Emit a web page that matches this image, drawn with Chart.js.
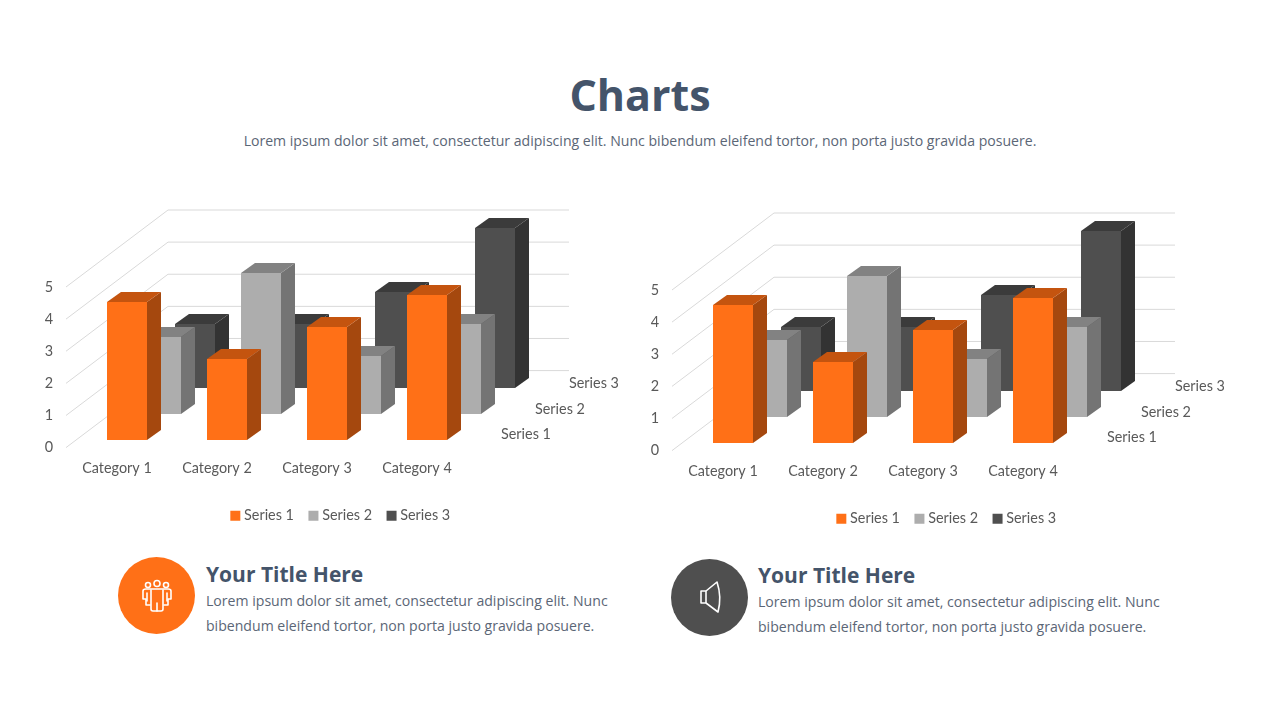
<!DOCTYPE html>
<html>
<head>
<meta charset="utf-8">
<title>Charts</title>
<script src="https://cdn.jsdelivr.net/npm/chart.js@4"></script>
<style>
  html, body { margin: 0; padding: 0; background: #fff; }
  body { width: 1280px; height: 720px; position: relative; overflow: hidden; font-family: "Open Sans", sans-serif; }
  .abs { position: absolute; }
  h1 { position: absolute; left: 0; width: 1280px; top: 65px; margin: 0; text-align: center; font-size: 43px; line-height: 60px; font-weight: 700; color: #44546a; }
  .sub { position: absolute; left: 0; width: 1280px; top: 131px; text-align: center; font-size: 14.08px; line-height: 20px; color: #5b6676; }
  .head { position: absolute; font-size: 21px; line-height: 28px; font-weight: 700; color: #44546a; white-space: nowrap; }
  .body { position: absolute; font-size: 14.1px; line-height: 25px; color: #5b6676; white-space: nowrap; }
  canvas { position: absolute; }
</style>
</head>
<body>
<h1>Charts</h1>
<div class="sub">Lorem ipsum dolor sit amet, consectetur adipiscing elit. Nunc bibendum eleifend tortor, non porta justo gravida posuere.</div>

<canvas id="chartLeft" width="602" height="343" style="left:41px;top:190px"></canvas>
<canvas id="chartRight" width="602" height="343" style="left:647px;top:193px"></canvas>

<svg class="abs" style="left:118px;top:557px" width="77" height="77" viewBox="0 0 77 77">
  <circle cx="38.5" cy="38.5" r="38.5" fill="#ff7017"/>
  <g fill="none" stroke="#fff" stroke-width="1.6" stroke-linejoin="round" stroke-linecap="round">
    <circle cx="30" cy="28" r="2.5"/><circle cx="39" cy="26.5" r="3"/><circle cx="48" cy="28" r="2.5"/>
    <path d="M32 48H28V42H25V34Q25 32 28 32H50Q53 32 53 34V42H50V48H46"/>
    <path d="M33 33V52Q33 54 35 54H43Q45 54 45 52V33"/>
    <path d="M29 36V44M49 36V44M39 46V54"/>
  </g>
</svg>
<svg class="abs" style="left:671px;top:559px" width="77" height="77" viewBox="0 0 77 77">
  <circle cx="38.5" cy="38.5" r="38.5" fill="#4f4f4f"/>
  <g fill="none" stroke="#fff" stroke-width="1.6" stroke-linejoin="round">
    <path d="M35 32H30V44H35Z"/>
    <path d="M35 32L46 23Q51 38 47 53L35 44"/>
  </g>
</svg>

<div class="head" style="left:206px;top:560px">Your Title Here</div>
<div class="body" style="left:206px;top:588px">Lorem ipsum dolor sit amet, consectetur adipiscing elit. Nunc<br>bibendum eleifend tortor, non porta justo gravida posuere.</div>
<div class="head" style="left:758px;top:561px">Your Title Here</div>
<div class="body" style="left:758px;top:589px">Lorem ipsum dolor sit amet, consectetur adipiscing elit. Nunc<br>bibendum eleifend tortor, non porta justo gravida posuere.</div>

<script>
/* ---------- DATA ---------- */
const categories = ["Category 1", "Category 2", "Category 3", "Category 4"];
const seriesNames = ["Series 1", "Series 2", "Series 3"];
const series1 = [4.3, 2.5, 3.5, 4.5];
const series2 = [2.4, 4.4, 1.8, 2.8];
const series3 = [2, 2, 3, 5];

/* ---------- COLOURS (front, top, side) ---------- */
const frontColors = ["#ff7017", "#adadad", "#4f4f4f"];
const topColors = ["#c4540f", "#828282", "#3b3b3b"];
const sideColors = ["#a5480e", "#747474", "#333333"];

/* ---------- FAKE 3D ---------- */
const floorX = 102;      // floor depth on screen
const floorY = -77;
const prismX = 14;       // depth of one bar on screen
const prismY = -10;
const rows = seriesNames.length;

function face(ctx, color, pts) {
  ctx.fillStyle = color;
  ctx.beginPath();
  pts.forEach((p, i) => (i ? ctx.lineTo(p[0], p[1]) : ctx.moveTo(p[0], p[1])));
  ctx.closePath();
  ctx.fill();
}

// bar element: the front face comes from the library, depth is added here
class PrismElement extends Chart.BarElement {
  static id = "prism";

  draw(ctx) {
    const i = this.row;
    const shiftX = (floorX / rows) * i + (floorX / rows - prismX) / 2;
    const shiftY = (floorY / rows) * i + (floorY / rows - prismY) / 2;
    const l = Math.round(this.x - this.width / 2 + shiftX);
    const r = Math.round(this.x + this.width / 2 + shiftX);
    const t = Math.round(this.y + shiftY);
    const b = Math.round(this.base + shiftY);

    face(ctx, sideColors[i], [[r, t], [r + prismX, t + prismY], [r + prismX, b + prismY], [r, b]]);
    face(ctx, topColors[i], [[l, t], [l + prismX, t + prismY], [r + prismX, t + prismY], [r, t]]);
    face(ctx, frontColors[i], [[l, t], [r, t], [r, b], [l, b]]);
  }
}

class Bar3dController extends Chart.BarController {
  static id = "bar3d";
  static defaults = { ...Chart.BarController.defaults, dataElementType: "prism" };

  updateElements(rects, start, count, mode) {
    super.updateElements(rects, start, count, mode);
    rects.forEach(r => (r.row = this.index));
  }
}

Chart.register(PrismElement, Bar3dController);

/* ---------- WALLS + DEPTH LABELS ---------- */
const wallsPlugin = {
  id: "walls",
  beforeDatasetsDraw(chart) {
    const { ctx, chartArea, scales } = chart;
    ctx.save();
    ctx.strokeStyle = "#d9d9d9";
    ctx.lineWidth = 1;
    scales.y.ticks.forEach(tick => {
      const y = scales.y.getPixelForValue(tick.value);
      ctx.beginPath();
      ctx.moveTo(chartArea.left - 1, y);
      ctx.lineTo(chartArea.left - 1 + floorX, y + floorY);
      ctx.lineTo(chartArea.right + floorX, y + floorY);
      ctx.stroke();
    });
    ctx.restore();
  },
  afterDraw(chart) {
    const { ctx, chartArea } = chart;
    ctx.save();
    ctx.font = "14.4px Lato";
    ctx.fillStyle = "#595959";
    ctx.textBaseline = "middle";
    seriesNames.forEach((name, i) => {
      const x = chartArea.right + (floorX / rows) * (i + 0.5) + 17;
      const y = chartArea.bottom + (floorY / rows) * (i + 0.5);
      ctx.fillText(name, x, y);
    });
    ctx.restore();
  }
};

/* ---------- CHARTS ---------- */
function makeChart(id) {
  const ctx = document.getElementById(id).getContext("2d");
  return new Chart(ctx, {
    type: "bar3d",
    data: {
      labels: categories,
      datasets: [series1, series2, series3].map((values, i) => ({
        label: seriesNames[i],
        data: values,
        backgroundColor: frontColors[i],
        clip: false
      }))
    },
    options: {
      responsive: false,
      animation: false,
      grouped: false,
      categoryPercentage: 1,
      barPercentage: 0.4,
      layout: { padding: { top: 97, right: 0, left: 0, bottom: 0 } },
      scales: {
        x: {
          grid: { display: false, drawTicks: false, tickLength: 0 },
          border: { display: false },
          afterFit(scale) { scale.height = 43; },
          ticks: { color: "#595959", font: { family: "Lato", size: 14.4 }, padding: 12, maxRotation: 0 }
        },
        y: {
          min: 0,
          max: 5,
          grid: { display: false, drawTicks: false, tickLength: 0 },
          border: { display: false },
          afterFit(scale) { scale.width = 26; },
          ticks: { stepSize: 1, color: "#595959", font: { family: "Lato", size: 14.4 }, padding: 14 }
        },
        // keeps the room on the right for the depth labels, legend stays centred on the canvas
        depth: {
          type: "category",
          labels: seriesNames,
          position: "right",
          grid: { display: false, drawTicks: false, tickLength: 0 },
          border: { display: false },
          ticks: { display: false },
          afterFit(scale) { scale.width = 176; }
        }
      },
      plugins: {
        tooltip: { enabled: false },
        legend: {
          position: "bottom",
          labels: {
            color: "#595959",
            font: { family: "Lato", size: 14.4 },
            usePointStyle: true,
            pointStyle: "rect",
            boxWidth: 3,
            boxHeight: 10,
            padding: 18
          }
        }
      }
    },
    plugins: [wallsPlugin]
  });
}

makeChart("chartLeft");
makeChart("chartRight");
</script>
</body>
</html>
